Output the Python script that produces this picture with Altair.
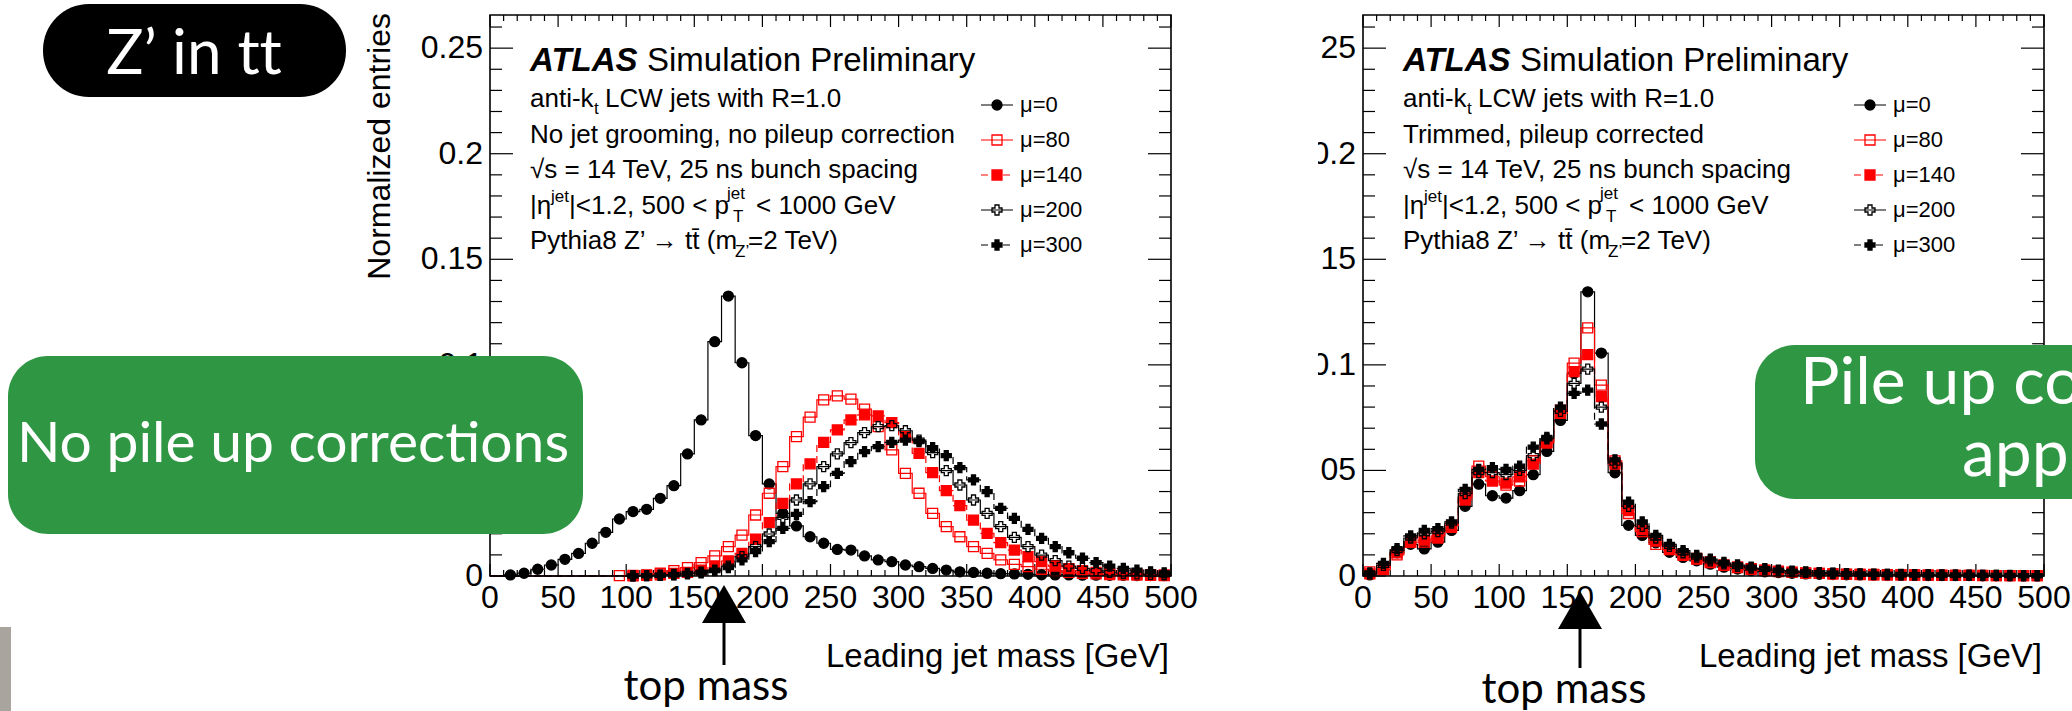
import altair as alt
import pandas as pd

# ---------------- data ----------------
mass_bins = [5 + 10 * i for i in range(50)]
mu_names = ["μ=0", "μ=80", "μ=140", "μ=200", "μ=300"]

# left panel: no grooming, no pileup correction
nocorr_mu0 = [0.0, 0.0005, 0.0013, 0.0032, 0.0052, 0.0079, 0.0107, 0.0155, 0.0207, 0.0270,
              0.0305, 0.0316, 0.0368, 0.0428, 0.0578, 0.0739, 0.1110, 0.1326, 0.1010, 0.0665,
              0.0436, 0.0297, 0.0237, 0.0186, 0.0155, 0.0126, 0.0123, 0.0095, 0.0076, 0.0068,
              0.0052, 0.0044, 0.0036, 0.0028, 0.0020, 0.0017, 0.0013, 0.0011, 0.0010, 0.0008,
              0.0006, 0.0005, 0.0005, 0.0004, 0.0004, 0.0003, 0.0003, 0.0002, 0.0002, 0.0002]
nocorr_mu80 = [0, 0, 0, 0, 0, 0, 0, 0, 0, 0.0002,
               0.0003, 0.0005, 0.0013, 0.0025, 0.0040, 0.0063, 0.0095, 0.0139, 0.0194, 0.0289,
               0.0392, 0.0518, 0.0660, 0.0752, 0.0834, 0.0853, 0.0838, 0.0790, 0.0707, 0.0597,
               0.0486, 0.0392, 0.0297, 0.0234, 0.0186, 0.0139, 0.0107, 0.0076, 0.0055, 0.0044,
               0.0032, 0.0024, 0.0017, 0.0013, 0.0010, 0.0007, 0.0005, 0.0004, 0.0003, 0.0002]
nocorr_mu140 = [0, 0, 0, 0, 0, 0, 0, 0, 0, 0,
                0.0001, 0.0003, 0.0005, 0.0012, 0.0017, 0.0028, 0.0044, 0.0071, 0.0107, 0.0174,
                0.0253, 0.0344, 0.0436, 0.0531, 0.0633, 0.0692, 0.0739, 0.0763, 0.0758, 0.0726,
                0.0660, 0.0581, 0.0490, 0.0404, 0.0333, 0.0265, 0.0202, 0.0158, 0.0123, 0.0092,
                0.0068, 0.0047, 0.0035, 0.0025, 0.0017, 0.0013, 0.0010, 0.0008, 0.0006, 0.0005]
nocorr_mu200 = [0, 0, 0, 0, 0, 0, 0, 0, 0, 0,
                0.0001, 0.0002, 0.0004, 0.0007, 0.0012, 0.0018, 0.0028, 0.0047, 0.0092, 0.0139,
                0.0199, 0.0278, 0.0360, 0.0436, 0.0518, 0.0578, 0.0632, 0.0679, 0.0707, 0.0712,
                0.0688, 0.0644, 0.0584, 0.0499, 0.0431, 0.0360, 0.0297, 0.0234, 0.0183, 0.0139,
                0.0099, 0.0073, 0.0047, 0.0036, 0.0025, 0.0017, 0.0013, 0.0010, 0.0008, 0.0006]
nocorr_mu300 = [0, 0, 0, 0, 0, 0, 0, 0, 0, 0,
                0.0001, 0.0002, 0.0003, 0.0006, 0.0010, 0.0015, 0.0025, 0.0040, 0.0076, 0.0115,
                0.0163, 0.0226, 0.0292, 0.0352, 0.0423, 0.0486, 0.0542, 0.0589, 0.0613, 0.0633,
                0.0644, 0.0636, 0.0608, 0.0570, 0.0513, 0.0455, 0.0400, 0.0320, 0.0273, 0.0221,
                0.0178, 0.0139, 0.0110, 0.0084, 0.0063, 0.0047, 0.0036, 0.0028, 0.0020, 0.0015]

# right panel: trimmed, pileup corrected
trim_mu0 = [0.0005, 0.0040, 0.0110, 0.0150, 0.0128, 0.0160, 0.0216, 0.0330, 0.0435, 0.0380,
            0.0369, 0.0404, 0.0480, 0.0590, 0.0737, 0.0960, 0.1346, 0.1056, 0.0489, 0.0240,
            0.0192, 0.0157, 0.0112, 0.0088, 0.0072, 0.0056, 0.0042, 0.0033, 0.0025, 0.0020,
            0.0016, 0.0013, 0.0010, 0.0008, 0.0007, 0.0006, 0.0005, 0.0004, 0.0004, 0.0003,
            0.0003, 0.0002, 0.0002, 0.0002, 0.0002, 0.0001, 0.0001, 0.0001, 0.0001, 0.0001]
trim_mu80 = [0.0020, 0.0030, 0.0100, 0.0160, 0.0160, 0.0190, 0.0240, 0.0370, 0.0520, 0.0470,
             0.0430, 0.0450, 0.0545, 0.0633, 0.0785, 0.1008, 0.1175, 0.0904, 0.0545, 0.0296,
             0.0210, 0.0150, 0.0125, 0.0098, 0.0080, 0.0064, 0.0050, 0.0040, 0.0032, 0.0026,
             0.0021, 0.0017, 0.0014, 0.0012, 0.0010, 0.0008, 0.0007, 0.0006, 0.0005, 0.0005,
             0.0004, 0.0004, 0.0003, 0.0003, 0.0003, 0.0002, 0.0002, 0.0002, 0.0002, 0.0002]
trim_mu140 = [0.0010, 0.0030, 0.0110, 0.0160, 0.0170, 0.0180, 0.0230, 0.0360, 0.0490, 0.0450,
              0.0440, 0.0470, 0.0530, 0.0630, 0.0770, 0.0968, 0.1048, 0.0850, 0.0530, 0.0310,
              0.0220, 0.0165, 0.0130, 0.0102, 0.0083, 0.0067, 0.0053, 0.0043, 0.0035, 0.0028,
              0.0023, 0.0018, 0.0015, 0.0012, 0.0010, 0.0009, 0.0008, 0.0007, 0.0006, 0.0005,
              0.0005, 0.0004, 0.0004, 0.0003, 0.0003, 0.0003, 0.0002, 0.0002, 0.0002, 0.0002]
trim_mu200 = [0.0010, 0.0050, 0.0120, 0.0180, 0.0200, 0.0210, 0.0250, 0.0390, 0.0490, 0.0490,
              0.0480, 0.0500, 0.0570, 0.0650, 0.0780, 0.0912, 0.0980, 0.0800, 0.0535, 0.0330,
              0.0235, 0.0180, 0.0140, 0.0110, 0.0090, 0.0072, 0.0057, 0.0046, 0.0038, 0.0031,
              0.0025, 0.0020, 0.0017, 0.0014, 0.0012, 0.0010, 0.0009, 0.0008, 0.0007, 0.0006,
              0.0005, 0.0005, 0.0004, 0.0004, 0.0003, 0.0003, 0.0003, 0.0002, 0.0002, 0.0002]
trim_mu300 = [0.0015, 0.0060, 0.0130, 0.0190, 0.0216, 0.0224, 0.0256, 0.0410, 0.0505, 0.0513,
              0.0505, 0.0520, 0.0610, 0.0657, 0.0800, 0.0865, 0.0880, 0.0720, 0.0550, 0.0350,
              0.0256, 0.0192, 0.0150, 0.0120, 0.0098, 0.0080, 0.0064, 0.0052, 0.0042, 0.0035,
              0.0028, 0.0023, 0.0019, 0.0016, 0.0013, 0.0011, 0.0010, 0.0009, 0.0008, 0.0007,
              0.0006, 0.0005, 0.0005, 0.0004, 0.0004, 0.0003, 0.0003, 0.0003, 0.0002, 0.0002]

x_major_ticks = [0, 50, 100, 150, 200, 250, 300, 350, 400, 450, 500]
x_major_labels = ["0", "50", "100", "150", "200", "250", "300", "350", "400", "450", "500"]
x_minor_ticks = [10 * i for i in range(51)]
y_major_ticks = [0, 0.05, 0.1, 0.15, 0.2, 0.25]
y_major_labels = ["0", "0.05", "0.1", "0.15", "0.2", "0.25"]
y_minor_ticks = [round(0.01 * i, 2) for i in range(27)]

# ---------------- styles / layout ----------------
line_colors = ["black", "red", "red", "black", "black"]
line_dashes = [[1, 0], [1, 0], [7, 4], [1, 0], [7, 4]]
marker_shapes = ["circle", "square", "square", "cross", "cross"]
marker_fills = ["black", "transparent", "red", "transparent", "black"]
marker_strokes = ["black", "red", "red", "black", "black"]

ROOT_FONT = "Liberation Sans, Arial, Helvetica, sans-serif"
SLIDE_FONT = "Lato, Open Sans, sans-serif"
Y_TOP = 0.2657
Y_PIX = [576, 15]
LEFT_X = [490, 1171]
RIGHT_X = [1363, 2044]
ONE = pd.DataFrame({"o": [0]})


def value_text(s, x, y, size, font=ROOT_FONT, color="black", align="left",
               baseline="alphabetic", weight="normal", style="normal", angle=0):
    return alt.Chart(ONE).mark_text(
        text=s, align=align, baseline=baseline, fontSize=size, font=font, color=color,
        fontWeight=weight, fontStyle=style, angle=angle
    ).encode(x=alt.value(x), y=alt.value(y))


def hist_frames(series):
    pts, lns = [], []
    for k, (name, vals) in enumerate(zip(mu_names, series)):
        lns.append({"m": 0, "v": vals[0], "mu": name, "k": k})
        for m, v in zip(mass_bins, vals):
            lns.append({"m": m, "v": v, "mu": name, "k": k})
            if v > 0:
                pts.append({"m": m, "v": v, "mu": name, "k": k})
        lns.append({"m": 500, "v": vals[-1], "mu": name, "k": k})
    return pd.DataFrame(pts), pd.DataFrame(lns)


def panel(x_range, series, line2):
    xs = alt.Scale(domain=[0, 500], range=x_range, nice=False, zero=False)
    ys = alt.Scale(domain=[0, Y_TOP], range=Y_PIX, nice=False, zero=False)
    ppg = (x_range[1] - x_range[0]) / 500.0
    ppu = (Y_PIX[0] - Y_PIX[1]) / Y_TOP

    def X(f):
        return alt.X(f, type="quantitative", scale=xs, axis=None)

    def Y(f):
        return alt.Y(f, type="quantitative", scale=ys, axis=None)

    def XD(v):
        return alt.XDatum(v, type="quantitative", scale=xs, axis=None)

    def YD(v):
        return alt.YDatum(v, type="quantitative", scale=ys, axis=None)

    layers = []
    xmin_df = pd.DataFrame({"m": [t for t in x_minor_ticks if t % 50 != 0]})
    xmaj_df = pd.DataFrame({"m": x_major_ticks, "lab": x_major_labels})
    ymin_df = pd.DataFrame({"v": [t for i, t in enumerate(y_minor_ticks) if i % 5 != 0]})
    ymaj_df = pd.DataFrame({"v": y_major_ticks, "lab": y_major_labels})
    tick_style = dict(color="black", strokeWidth=1.2)
    for df, ln in ((xmin_df, 6), (xmaj_df, 12)):
        layers.append(alt.Chart(df).mark_rule(**tick_style).encode(
            x=X("m"), y=YD(0), y2=alt.Y2Datum(ln / ppu)))
        layers.append(alt.Chart(df).mark_rule(**tick_style).encode(
            x=X("m"), y=YD(Y_TOP), y2=alt.Y2Datum(Y_TOP - ln / ppu)))
    for df, ln in ((ymin_df, 12), (ymaj_df, 23)):
        layers.append(alt.Chart(df).mark_rule(**tick_style).encode(
            y=Y("v"), x=XD(0), x2=alt.X2Datum(ln / ppg)))
        layers.append(alt.Chart(df).mark_rule(**tick_style).encode(
            y=Y("v"), x=XD(500), x2=alt.X2Datum(500 - ln / ppg)))

    layers.append(alt.Chart(xmaj_df).mark_text(font=ROOT_FONT, fontSize=32, baseline="middle", dy=22).encode(
        x=X("m"), y=YD(0), text="lab:N"))
    layers.append(alt.Chart(ymaj_df).mark_text(font=ROOT_FONT, fontSize=32, baseline="middle",
                                               align="right", dx=-7).encode(
        y=Y("v"), x=XD(0), text="lab:N"))

    pts, lns = hist_frames(series)
    layers.append(alt.Chart(lns).mark_line(interpolate="step", strokeWidth=1.2).encode(
        x=X("m"), y=Y("v"),
        color=alt.Color("mu:N", scale=alt.Scale(domain=mu_names, range=line_colors), legend=None),
        strokeDash=alt.StrokeDash("mu:N", scale=alt.Scale(domain=mu_names, range=line_dashes), legend=None)))
    layers.append(alt.Chart(pts).mark_point(size=100, strokeWidth=1.3, opacity=1).encode(
        x=X("m"), y=Y("v"),
        shape=alt.Shape("mu:N", scale=alt.Scale(domain=mu_names, range=marker_shapes), legend=None),
        fill=alt.Fill("mu:N", scale=alt.Scale(domain=mu_names, range=marker_fills), legend=None),
        stroke=alt.Stroke("mu:N", scale=alt.Scale(domain=mu_names, range=marker_strokes), legend=None),
        order=alt.Order("k:Q")))

    frame = alt.Chart(ONE).mark_rect(fillOpacity=0, stroke="black", strokeWidth=1.6).encode(
        x=XD(0), x2=alt.X2Datum(500), y=YD(0), y2=alt.Y2Datum(Y_TOP))
    layers.append(frame)

    # ATLAS label block
    tx = x_range[0] + 40
    segs = [
        ("ATLAS", 0, 71, 33, "bold", "italic"),
        ("Simulation Preliminary", 117, 71, 33, "normal", "normal"),
        ("anti-k", 0, 107, 26, "normal", "normal"),
        ("t", 64, 114, 17, "normal", "normal"),
        ("LCW jets with R=1.0", 75, 107, 26, "normal", "normal"),
        (line2, 0, 142.5, 26, "normal", "normal"),
        ("√s = 14 TeV, 25 ns bunch spacing", 0, 178, 26, "normal", "normal"),
        ("|η", 0, 213.5, 26, "normal", "normal"),
        ("jet", 21, 202, 17, "normal", "normal"),
        ("|<1.2, 500 < p", 39, 213.5, 26, "normal", "normal"),
        ("jet", 197, 199, 17, "normal", "normal"),
        ("T", 203, 222, 17, "normal", "normal"),
        ("< 1000 GeV", 226, 213.5, 26, "normal", "normal"),
        ("Pythia8 Z’ → tt̄ (m", 0, 249, 26, "normal", "normal"),
        ("Z’", 205, 257, 17, "normal", "normal"),
        ("=2 TeV)", 218, 249, 26, "normal", "normal"),
    ]
    for s, dx, yy, fs, w, st in segs:
        layers.append(value_text(s, tx + dx, yy, fs, weight=w, style=st))

    # legend
    lx = x_range[0] + 507
    for i, name in enumerate(mu_names):
        yy = 105 + 35 * i
        layers.append(alt.Chart(ONE).mark_rule(color=line_colors[i], strokeDash=line_dashes[i],
                                               strokeWidth=1.2).encode(
            x=alt.value(lx - 16), x2=alt.value(lx + 16), y=alt.value(yy)))
        layers.append(alt.Chart(ONE).mark_point(shape=marker_shapes[i], fill=marker_fills[i],
                                                stroke=marker_strokes[i], size=100, strokeWidth=1.3,
                                                opacity=1).encode(x=alt.value(lx), y=alt.value(yy)))
        layers.append(value_text(name, lx + 23, yy, 22, baseline="middle"))

    # x-axis title
    layers.append(value_text("Leading jet mass [GeV]", x_range[1] - 2, 657, 33,
                             align="right", baseline="middle"))
    return alt.layer(*layers)


left = panel(LEFT_X, [nocorr_mu0, nocorr_mu80, nocorr_mu140, nocorr_mu200, nocorr_mu300],
             "No jet grooming, no pileup correction")
right = panel(RIGHT_X, [trim_mu0, trim_mu80, trim_mu140, trim_mu200, trim_mu300],
              "Trimmed, pileup corrected")

cover = alt.Chart(ONE).mark_rect(color="white").encode(
    x=alt.value(1199), x2=alt.value(1318), y=alt.value(0), y2=alt.value(711))

GREEN = "#2f9643"
annots = [
    value_text("Normalized entries", 380, 13, 32, align="right", baseline="middle", angle=270),
    # slide pill
    alt.Chart(ONE).mark_rect(color="black", cornerRadius=46).encode(
        x=alt.value(43), x2=alt.value(346), y=alt.value(4), y2=alt.value(97)),
    value_text("Z’ in t\u200ct", 194, 74, 62, font=SLIDE_FONT, color="white", align="center"),
    # green call-outs
    alt.Chart(ONE).mark_rect(color=GREEN, cornerRadius=40).encode(
        x=alt.value(8), x2=alt.value(583), y=alt.value(356), y2=alt.value(534)),
    value_text("No pile up corrections", 293, 462, 57, font=SLIDE_FONT, color="white", align="center"),
    alt.Chart(ONE).mark_rect(color=GREEN, cornerRadius=40).encode(
        x=alt.value(1755), x2=alt.value(2330), y=alt.value(345), y2=alt.value(499)),
    value_text("Pile up corrections", 1800, 404, 66, font=SLIDE_FONT, color="white"),
    value_text("applied", 1962, 476, 66, font=SLIDE_FONT, color="white"),
    # grey slide strip
    alt.Chart(ONE).mark_rect(color="#a9a49e").encode(
        x=alt.value(0), x2=alt.value(11), y=alt.value(627), y2=alt.value(711)),
    # top-mass arrows
    alt.Chart(ONE).mark_rule(color="black", strokeWidth=3).encode(
        x=alt.value(724), y=alt.value(600), y2=alt.value(665)),
    alt.Chart(ONE).mark_point(shape="triangle-up", filled=True, color="black", size=1936, opacity=1).encode(
        x=alt.value(724), y=alt.value(604)),
    value_text("top mass", 706, 700, 42, font=SLIDE_FONT, align="center"),
    alt.Chart(ONE).mark_rule(color="black", strokeWidth=3).encode(
        x=alt.value(1580), y=alt.value(608), y2=alt.value(668)),
    alt.Chart(ONE).mark_point(shape="triangle-up", filled=True, color="black", size=1936, opacity=1).encode(
        x=alt.value(1580), y=alt.value(610)),
    value_text("top mass", 1564, 703, 42, font=SLIDE_FONT, align="center"),
]

chart = alt.layer(right, cover, left, *annots).resolve_scale(
    x="independent", y="independent"
).properties(
    width=2072, height=711, padding=0, background="white",
    autosize=alt.AutoSizeParams(type="none"),
).configure_view(stroke=None)

chart.save("out.html", embed_options={"renderer": "svg", "actions": False})
